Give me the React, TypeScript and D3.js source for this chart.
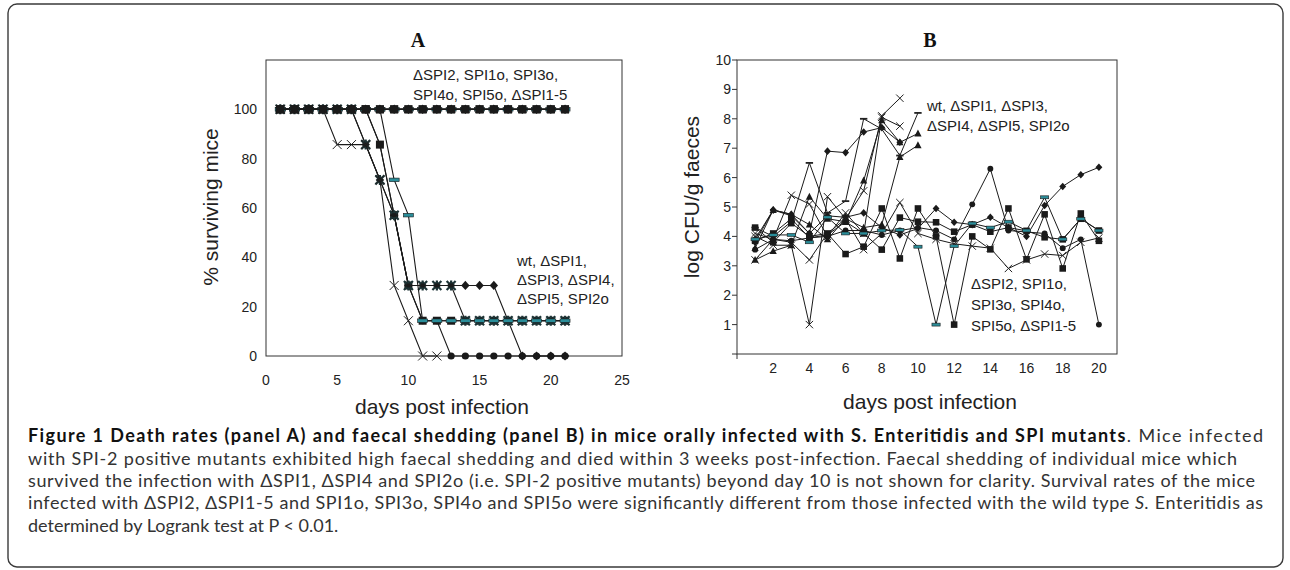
import React from 'react';
import * as d3 from 'd3';

// ---------------- DATA ----------------
// Panel A: % surviving mice, days 1..21
const daysA = [1, 2, 3, 4, 5, 6, 7, 8, 9, 10, 11, 12, 13, 14, 15, 16, 17, 18, 19, 20, 21];
const xTicksA = [0, 5, 10, 15, 20, 25];
const yTicksA = [0, 20, 40, 60, 80, 100];

// SPI-2 negative group (all survive)
const survSPI1o = [100, 100, 100, 100, 100, 100, 100, 100, 100, 100, 100, 100, 100, 100, 100, 100, 100, 100, 100, 100, 100];
const survSPI3o = [100, 100, 100, 100, 100, 100, 100, 100, 100, 100, 100, 100, 100, 100, 100, 100, 100, 100, 100, 100, 100];
const survSPI4o = [100, 100, 100, 100, 100, 100, 100, 100, 100, 100, 100, 100, 100, 100, 100, 100, 100, 100, 100, 100, 100];
const survSPI5o = [100, 100, 100, 100, 100, 100, 100, 100, 100, 100, 100, 100, 100, 100, 100, 100, 100, 100, 100, 100, 100];
const survDSPI2 = [100, 100, 100, 100, 100, 100, 100, 100, 100, 100, 100, 100, 100, 100, 100, 100, 100, 100, 100, 100, 100];
const survDSPI1_5 = [100, 100, 100, 100, 100, 100, 100, 100, 100, 100, 100, 100, 100, 100, 100, 100, 100, 100, 100, 100, 100];

// SPI-2 positive group
const survWt = [100, 100, 100, 100, 85.7, 85.7, 85.7, 71.4, 28.6, 14.3, 0, 0];
const survDSPI1 = [100, 100, 100, 100, 100, 100, 85.7, 71.4, 57.1, 28.6, 28.6, 28.6, 28.6, 14.3, 14.3, 14.3, 14.3, 14.3, 14.3, 14.3, 14.3];
const survDSPI3 = [100, 100, 100, 100, 100, 100, 100, 85.7, 57.1, 28.6, 14.3, 14.3, 14.3, 14.3, 14.3, 14.3, 14.3, 14.3, 14.3, 14.3, 14.3];
const survDSPI4 = [100, 100, 100, 100, 100, 100, 100, 100, 71.4, 57.1, 14.3, 14.3, 14.3, 14.3, 14.3, 14.3, 14.3, 14.3, 14.3, 14.3, 14.3];
const survDSPI5 = [100, 100, 100, 100, 100, 100, 85.7, 71.4, 57.1, 28.6, 28.6, 28.6, 28.6, 28.6, 28.6, 28.6, 14.3, 0, 0, 0, 0];
const survSPI2o = [100, 100, 100, 100, 100, 100, 100, 85.7, 57.1, 28.6, 14.3, 14.3, 0, 0, 0, 0, 0, 0, 0, 0, 0];

// Panel B: log CFU/g faeces, days 1..20
const daysB = [1, 2, 3, 4, 5, 6, 7, 8, 9, 10, 11, 12, 13, 14, 15, 16, 17, 18, 19, 20];
const xTicksB = [2, 4, 6, 8, 10, 12, 14, 16, 18, 20];
const yTicksB = [1, 2, 3, 4, 5, 6, 7, 8, 9, 10];

const logDSPI2 = [3.9, 4.05, 4.05, 3.8, 4.65, 4.1, 4.1, 4.2, 4.22, 3.65, 1.0, 3.67, 4.44, 4.3, 4.5, 4.2, 5.33, 3.9, 4.6, 4.2];
const logSPI1o = [4.3, 3.8, 4.45, 4.0, 4.1, 3.4, 3.65, 4.95, 3.25, 4.95, 4.0, 1.0, 4.0, 3.56, 4.95, 3.22, 4.75, 2.91, 4.78, 3.85];
const logSPI3o = [3.85, 4.1, 4.6, 3.95, 4.05, 4.5, 4.1, 3.55, 4.64, 4.5, 4.48, 4.16, 4.4, 4.16, 4.3, 4.19, 3.97, 3.9, 4.6, 4.2];
const logSPI4o = [3.8, 4.9, 4.75, 4.1, 4.7, 4.65, 4.8, 4.3, 4.05, 4.27, 4.95, 4.48, 4.4, 4.65, 4.3, 4.0, 5.05, 5.7, 6.1, 6.35];
const logSPI5o = [3.55, 3.9, 3.85, 3.95, 4.0, 4.2, 4.2, 4.05, 4.2, 4.3, 4.2, 3.9, 5.09, 6.3, 4.2, 4.15, 4.1, 3.6, 3.9, 1.0];
const logDSPI1_5 = [4.0, 3.7, 3.7, 1.0, 5.35, 4.6, 3.55, 4.1, 5.15, 4.1, 3.9, 3.75, 3.67, 3.6, 2.91, 3.2, 3.4, 3.35, 3.8, 3.95];

const logWt = [3.2, 3.9, 3.8, 3.2, 4.1, 4.6, 5.55, 8.1, 8.7];
const logDSPI1 = [4.1, 3.9, 5.4, 5.1, 4.0, 4.8, 4.1, 8.05, 7.75];
const logDSPI3 = [3.9, 4.9, 4.7, 4.1, 6.9, 6.85, 7.55, 7.7, 7.2];
const logDSPI4 = [3.2, 3.5, 3.7, 5.35, 4.6, 4.5, 5.9, 7.95, 7.2, 7.5];
const logDSPI5 = [3.6, 4.9, 4.75, 4.4, 3.9, 4.6, 4.3, 4.4, 6.7, 7.1];
const logSPI2o = [4.3, 4.0, 4.5, 6.5, 4.8, 5.2, 8.0, 7.65, 6.75, 8.2];

// ---------------- LAYOUT ----------------
const xA = d3.scaleLinear().domain([0, 25]).range([266, 622]);
const yA = d3.scaleLinear().domain([0, 120]).range([356, 60]);
const xB = d3.scaleLinear().domain([0, 21]).range([737, 1117]);
const yB = d3.scaleLinear().domain([0, 10]).range([354, 60]);

const TEAL = '#2a8d99';
const INK = '#1a1a1a';
const FONT = '"Liberation Sans", Arial, Helvetica, sans-serif';

type MType = 'square' | 'diamond' | 'triangle' | 'circle' | 'cross' | 'star' | 'dash' | 'bar' | 'plus';

function Marker({ t, x, y, s }: { t: MType; x: number; y: number; s: number }) {
  switch (t) {
    case 'square':
      return <rect x={x - 4 * s} y={y - 4 * s} width={8 * s} height={8 * s} fill={INK} />;
    case 'diamond':
      return <path d={`M${x},${y - 4.6 * s}L${x + 4.2 * s},${y}L${x},${y + 4.6 * s}L${x - 4.2 * s},${y}Z`} fill={INK} />;
    case 'triangle':
      return <path d={`M${x},${y - 4.8 * s}L${x + 4.4 * s},${y + 3.6 * s}L${x - 4.4 * s},${y + 3.6 * s}Z`} fill={INK} />;
    case 'circle':
      return <circle cx={x} cy={y} r={3.6 * s} fill={INK} />;
    case 'cross':
      return (
        <path
          d={`M${x - 4.5 * s},${y - 4.5 * s}L${x + 4.5 * s},${y + 4.5 * s}M${x - 4.5 * s},${y + 4.5 * s}L${x + 4.5 * s},${y - 4.5 * s}`}
          stroke="#222"
          strokeWidth={1}
          fill="none"
        />
      );
    case 'star':
      return (
        <g>
          <path
            d={`M${x - 4.5 * s},${y - 4.5 * s}L${x + 4.5 * s},${y + 4.5 * s}M${x - 4.5 * s},${y + 4.5 * s}L${x + 4.5 * s},${y - 4.5 * s}M${x},${y - 5 * s}L${x},${y + 5 * s}`}
            stroke="#1d3436"
            strokeWidth={2.2}
            fill="none"
          />
          <rect x={x - 2} y={y - 2} width={4} height={4} fill={INK} />
        </g>
      );
    case 'dash':
      return <rect x={x - 5 * s} y={y - 1.8 * s} width={10 * s} height={3.6 * s} fill={TEAL} stroke="#1a1a1a" strokeWidth={0.6} />;
    case 'bar':
      return <rect x={x - 4.5 * s} y={y - 1.1 * s} width={9 * s} height={2.2 * s} fill="#222" />;
    case 'plus':
      return (
        <path d={`M${x - 4 * s},${y}L${x + 4 * s},${y}M${x},${y - 4 * s}L${x},${y + 4 * s}`} stroke="#222" strokeWidth={1} />
      );
  }
  return null;
}

function Series({
  days,
  vals,
  t,
  xs,
  ys,
  s,
  lw,
}: {
  days: number[];
  vals: number[];
  t: MType;
  xs: d3.ScaleLinear<number, number>;
  ys: d3.ScaleLinear<number, number>;
  s: number;
  lw: number;
}) {
  const line = d3
    .line<number>()
    .x((_, i) => xs(days[i]))
    .y((d) => ys(d));
  return (
    <g>
      <path d={line(vals) || ''} fill="none" stroke="#1a1a1a" strokeWidth={lw} />
      {vals.map((v, i) => (
        <Marker key={i} t={t} x={xs(days[i])} y={ys(v)} s={s} />
      ))}
    </g>
  );
}

// draw order: SPI-2 positive group first, then the surviving group on top
const seriesA: { vals: number[]; t: MType }[] = [
  { vals: survDSPI5, t: 'diamond' },
  { vals: survSPI2o, t: 'circle' },
  { vals: survDSPI3, t: 'square' },
  { vals: survDSPI1, t: 'star' },
  { vals: survDSPI4, t: 'dash' },
  { vals: survWt, t: 'cross' },
  { vals: survSPI4o, t: 'dash' },
  { vals: survSPI1o, t: 'triangle' },
  { vals: survSPI3o, t: 'diamond' },
  { vals: survSPI5o, t: 'circle' },
  { vals: survDSPI1_5, t: 'square' },
  { vals: survDSPI2, t: 'square' },
];

const seriesB: { vals: number[]; t: MType }[] = [
  { vals: logWt, t: 'cross' },
  { vals: logDSPI1, t: 'cross' },
  { vals: logDSPI3, t: 'diamond' },
  { vals: logDSPI4, t: 'triangle' },
  { vals: logDSPI5, t: 'triangle' },
  { vals: logSPI2o, t: 'bar' },
  { vals: logSPI5o, t: 'circle' },
  { vals: logSPI4o, t: 'diamond' },
  { vals: logSPI3o, t: 'square' },
  { vals: logSPI1o, t: 'square' },
  { vals: logDSPI1_5, t: 'cross' },
  { vals: logDSPI2, t: 'dash' },
];

const captionBold =
  'Figure 1 Death rates (panel A) and faecal shedding (panel B) in mice orally infected with S. Enteritidis and SPI mutants';
const captionLines = [
  'with SPI-2 positive mutants exhibited high faecal shedding and died within 3 weeks post-infection. Faecal shedding of individual mice which',
  'survived the infection with \u0394SPI1, \u0394SPI4 and SPI2o (i.e. SPI-2 positive mutants) beyond day 10 is not shown for clarity. Survival rates of the mice',
];
const captionLine4a = 'infected with \u0394SPI2, \u0394SPI1-5 and SPI1o, SPI3o, SPI4o and SPI5o were significantly different from those infected with the wild type ';
const captionLine5 = 'determined by Logrank test at P < 0.01.';

export default function App() {
  const axisColor = '#333';
  return (
    <svg
      width={1290}
      height={570}
      viewBox="0 0 1290 570"
      style={{ position: 'absolute', left: 0, top: 0, display: 'block', background: '#fff' }}
    >
      {/* outer frame */}
      <rect x={8} y={4} width={1275} height={563} rx={9} fill="none" stroke="#3a3a3a" strokeWidth={1.4} />

      {/* ---------- Panel A ---------- */}
      <text x={418} y={47} textAnchor="middle" fontFamily='"Liberation Serif", "Times New Roman", serif' fontWeight="bold" fontSize={20} fill="#111">
        A
      </text>
      <rect x={xA(0)} y={yA(120)} width={xA(25) - xA(0)} height={yA(0) - yA(120)} fill="none" stroke={axisColor} strokeWidth={1} />
      {yTicksA.map((v) => (
        <text key={v} x={257} y={yA(v) + 5} textAnchor="end" fontFamily={FONT} fontSize={14} fill="#222">
          {v}
        </text>
      ))}
      {xTicksA.map((v) => (
        <text key={v} x={xA(v)} y={385} textAnchor="middle" fontFamily={FONT} fontSize={14} fill="#222">
          {v}
        </text>
      ))}
      <text x={442} y={414} textAnchor="middle" fontFamily={FONT} fontSize={21} fill="#222">
        days post infection
      </text>
      <text
        transform={`translate(210,207) rotate(-90)`}
        textAnchor="middle"
        dominantBaseline="central"
        fontFamily={FONT}
        fontSize={21}
        fill="#222"
      >
        % surviving mice
      </text>
      {seriesA.map((s, i) => (
        <Series key={i} days={daysA} vals={s.vals} t={s.t} xs={xA} ys={yA} s={1} lw={1.1} />
      ))}
      <text fontFamily={FONT} fontSize={15} fill="#222">
        <tspan x={413} y={80}>{'\u0394SPI2, SPI1o, SPI3o,'}</tspan>
        <tspan x={413} y={100}>{'SPI4o, SPI5o, \u0394SPI1-5'}</tspan>
      </text>
      <text fontFamily={FONT} fontSize={15} fill="#222">
        <tspan x={517} y={266}>{'wt, \u0394SPI1,'}</tspan>
        <tspan x={517} y={285}>{'\u0394SPI3, \u0394SPI4,'}</tspan>
        <tspan x={517} y={304}>{'\u0394SPI5, SPI2o'}</tspan>
      </text>

      {/* ---------- Panel B ---------- */}
      <text x={930} y={47} textAnchor="middle" fontFamily='"Liberation Serif", "Times New Roman", serif' fontWeight="bold" fontSize={20} fill="#111">
        B
      </text>
      <rect x={xB(0)} y={yB(10)} width={xB(21) - xB(0)} height={yB(0) - yB(10)} fill="none" stroke={axisColor} strokeWidth={1} />
      {[0, ...yTicksB].map((v) => (
        <line key={v} x1={xB(0) - 5} x2={xB(0)} y1={yB(v)} y2={yB(v)} stroke={axisColor} strokeWidth={1} />
      ))}
      <line x1={xB(0)} x2={xB(0)} y1={yB(0)} y2={yB(0) + 5} stroke={axisColor} strokeWidth={1} />
      {yTicksB.map((v) => (
        <text key={v} x={731} y={yB(v) + 5} textAnchor="end" fontFamily={FONT} fontSize={14} fill="#222">
          {v}
        </text>
      ))}
      {xTicksB.map((v) => (
        <text key={v} x={xB(v)} y={373} textAnchor="middle" fontFamily={FONT} fontSize={14} fill="#222">
          {v}
        </text>
      ))}
      <text x={930} y={409} textAnchor="middle" fontFamily={FONT} fontSize={21} fill="#222">
        days post infection
      </text>
      <text
        transform={`translate(691,197) rotate(-90)`}
        textAnchor="middle"
        dominantBaseline="central"
        fontFamily={FONT}
        fontSize={21}
        fill="#222"
      >
        log CFU/g faeces
      </text>
      {seriesB.map((s, i) => (
        <Series key={i} days={daysB} vals={s.vals} t={s.t} xs={xB} ys={yB} s={0.82} lw={1} />
      ))}
      <text fontFamily={FONT} fontSize={15} fill="#222">
        <tspan x={927} y={111}>{'wt, \u0394SPI1, \u0394SPI3,'}</tspan>
        <tspan x={927} y={131}>{'\u0394SPI4, \u0394SPI5, SPI2o'}</tspan>
      </text>
      <text fontFamily={FONT} fontSize={15} fill="#222">
        <tspan x={971} y={289}>{'\u0394SPI2, SPI1o,'}</tspan>
        <tspan x={971} y={310}>{'SPI3o, SPI4o,'}</tspan>
        <tspan x={971} y={331}>{'SPI5o, \u0394SPI1-5'}</tspan>
      </text>

      {/* ---------- Caption ---------- */}
      <g fontFamily='Lato, "Open Sans", sans-serif' fontSize={18} fill="#333">
        <text x={28} y={442} textLength={1235} lengthAdjust="spacing">
          <tspan fontWeight="bold" fill="#111">{captionBold}</tspan>
          <tspan>. Mice infected</tspan>
        </text>
        <text x={28} y={465} textLength={1209} lengthAdjust="spacing">
          {captionLines[0]}
        </text>
        <text x={28} y={487} textLength={1227} lengthAdjust="spacing">
          {captionLines[1]}
        </text>
        <text x={28} y={509} textLength={1235} lengthAdjust="spacing">
          <tspan>{captionLine4a}</tspan>
          <tspan fontStyle="italic">S.</tspan>
          <tspan> Enteritidis as</tspan>
        </text>
        <text x={28} y={532}>
          {captionLine5}
        </text>
      </g>
    </svg>
  );
}
